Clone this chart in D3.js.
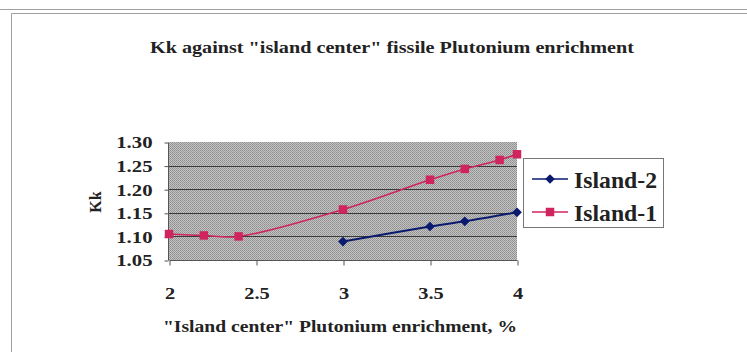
<!DOCTYPE html>
<html>
<head>
<meta charset="utf-8">
<script src="https://cdn.jsdelivr.net/npm/d3@7"></script>
<style>
  html, body { margin: 0; padding: 0; background: #fff; }
  svg { display: block; }
  svg text { font-family: "Liberation Serif", "Times New Roman", serif; font-weight: bold; fill: #222; }
</style>
</head>
<body>
<svg id="chart" width="747" height="352"></svg>
<script>
// Enrichment (%) and Kk values for each island configuration
const island1X = [2.0, 2.2, 2.4, 3.0, 3.5, 3.7, 3.9, 4.0];
const island1Kk = [1.105, 1.102, 1.100, 1.157, 1.220, 1.243, 1.262, 1.274];
const island2X = [3.0, 3.5, 3.7, 4.0];
const island2Kk = [1.089, 1.121, 1.132, 1.151];
const xTicks = [2, 2.5, 3, 3.5, 4];
const yTicks = [1.05, 1.10, 1.15, 1.20, 1.25, 1.30];
const seriesNames = ["Island-2", "Island-1"];

const svg = d3.select("#chart");

// Widen text glyphs horizontally by factor k
function widen(sel, k) {
  sel.each(function () {
    const w = this.getComputedTextLength();
    d3.select(this).attr("textLength", w * k).attr("lengthAdjust", "spacingAndGlyphs");
  });
}

// Outer frame lines
svg.append("line").attr("x1", 0).attr("x2", 747).attr("y1", 9.5).attr("y2", 9.5)
  .attr("stroke", "#a0a0a0").attr("stroke-width", 1);
svg.append("path").attr("d", "M11.5,352V13.5H747")
  .attr("fill", "none").attr("stroke", "#a0a0a0").attr("stroke-width", 1);

// Stippled grey plot background (checker of light and dark pixels)
const defs = svg.append("defs");
const pat = defs.append("pattern").attr("id", "stipple")
  .attr("x", 0).attr("y", 0)
  .attr("width", 2).attr("height", 2).attr("patternUnits", "userSpaceOnUse");
pat.append("rect").attr("width", 2).attr("height", 2).attr("fill", "#c4c4c4").attr("shape-rendering", "crispEdges");
pat.append("rect").attr("x", 0).attr("y", 0).attr("width", 1).attr("height", 1).attr("fill", "#8e8e8e").attr("shape-rendering", "crispEdges");
pat.append("rect").attr("x", 1).attr("y", 1).attr("width", 1).attr("height", 1).attr("fill", "#989898").attr("shape-rendering", "crispEdges");

const x = d3.scaleLinear().domain([2, 4]).range([169, 517]);
const y = d3.scaleLinear().domain([1.05, 1.30]).range([260, 142]);

svg.append("rect")
  .attr("x", x(2)).attr("y", y(1.30))
  .attr("width", x(4) - x(2)).attr("height", y(1.05) - y(1.30))
  .attr("fill", "url(#stipple)").attr("shape-rendering", "crispEdges");

// Horizontal gridlines
svg.append("g").selectAll("line").data(yTicks.slice(1, -1)).join("line")
  .attr("x1", x(2)).attr("x2", x(4))
  .attr("y1", d => Math.round(y(d)) + 0.5).attr("y2", d => Math.round(y(d)) + 0.5)
  .attr("stroke", "#3a3a3a").attr("stroke-width", 1);

// X axis
const xAxis = svg.append("g").attr("transform", `translate(0.5,${Math.round(y(1.05)) + 0.5})`)
  .call(d3.axisBottom(x).tickValues(xTicks).tickSize(5).tickPadding(0).tickFormat(d3.format("")));
xAxis.attr("font-family", null).attr("font-size", null);
xAxis.select(".domain").attr("stroke", "#555").attr("d", `M${x(2)},0H${x(4)}`);
xAxis.selectAll(".tick line").attr("stroke", "#555");
xAxis.selectAll("text").attr("dy", null).attr("y", 38).style("font-size", "17px");
widen(xAxis.selectAll("text"), 1.2);

// Y axis
const yAxis = svg.append("g").attr("transform", `translate(${x(2) - 0.5},0.5)`)
  .call(d3.axisLeft(y).tickValues(yTicks).tickSize(4).tickPadding(12).tickFormat(d3.format(".2f")));
yAxis.attr("font-family", null).attr("font-size", null);
yAxis.select(".domain").attr("stroke", "#555").attr("d", `M0,${y(1.30)}V${y(1.05)}`);
yAxis.selectAll(".tick line").attr("stroke", "#555");
yAxis.selectAll("text").style("font-size", "17px");
widen(yAxis.selectAll("text"), 1.22);

// Titles
svg.append("text").attr("x", 392).attr("y", 53).attr("text-anchor", "middle")
  .style("font-size", "17px")
  .attr("textLength", 484).attr("lengthAdjust", "spacingAndGlyphs")
  .text('Kk against "island center" fissile Plutonium enrichment');
svg.append("text").attr("x", 340).attr("y", 332).attr("text-anchor", "middle")
  .style("font-size", "17px")
  .attr("textLength", 354).attr("lengthAdjust", "spacingAndGlyphs")
  .text('"Island center" Plutonium enrichment, %');
svg.append("text").attr("transform", "translate(101,202) rotate(-90)")
  .attr("text-anchor", "middle").style("font-size", "16px").text("Kk");

// Series
const smooth = d3.line().x(d => x(d[0])).y(d => y(d[1])).curve(d3.curveCatmullRom.alpha(0.5));
const s1 = d3.zip(island1X, island1Kk);
const s2 = d3.zip(island2X, island2Kk);
const c1 = "#d0245e", c2 = "#0a1a6e";

svg.append("path").attr("d", smooth(s1)).attr("fill", "none").attr("stroke", c1).attr("stroke-width", 1.5);
svg.append("path").attr("d", smooth(s2)).attr("fill", "none").attr("stroke", c2).attr("stroke-width", 2);

const sq = d3.symbol().type(d3.symbolSquare).size(72);
const dm = d3.symbol().type(d3.symbolDiamond2).size(60);
svg.append("g").selectAll("path").data(s1).join("path")
  .attr("transform", d => `translate(${x(d[0])},${y(d[1])})`).attr("d", sq).attr("fill", c1);
svg.append("g").selectAll("path").data(s2).join("path")
  .attr("transform", d => `translate(${x(d[0])},${y(d[1])})`).attr("d", dm).attr("fill", c2);

// Legend
const lg = svg.append("g");
lg.append("rect").attr("x", 523.5).attr("y", 158.5).attr("width", 140).attr("height", 69)
  .attr("fill", "#fff").attr("stroke", "#777").attr("stroke-width", 1);
const items = [
  { name: seriesNames[0], color: c2, sym: dm, yy: 179, base: 188 },
  { name: seriesNames[1], color: c1, sym: sq, yy: 212, base: 221 }
];
items.forEach(it => {
  lg.append("line").attr("x1", 532).attr("x2", 568).attr("y1", it.yy).attr("y2", it.yy)
    .attr("stroke", it.color).attr("stroke-width", 1.5);
  lg.append("path").attr("transform", `translate(550,${it.yy})`).attr("d", it.sym).attr("fill", it.color);
  lg.append("text").attr("x", 574).attr("y", it.base).style("font-size", "23px")
    .attr("textLength", 83).attr("lengthAdjust", "spacingAndGlyphs").text(it.name);
});
</script>
</body>
</html>
